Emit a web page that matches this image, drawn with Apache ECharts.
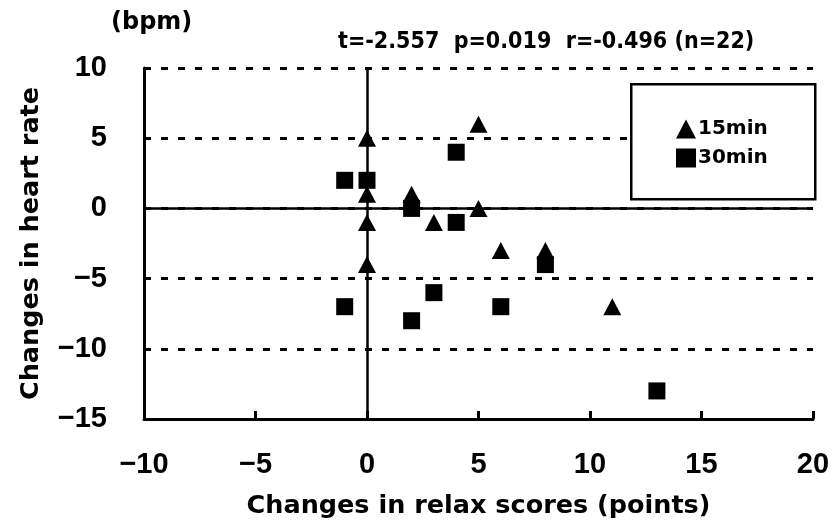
<!DOCTYPE html>
<html><head><meta charset="utf-8">
<script src="https://cdn.jsdelivr.net/npm/echarts@6/dist/echarts.min.js"></script>
<style>html,body{margin:0;padding:0;background:#fff}#c{width:833px;height:527px}</style>
</head><body><div id="c"></div>
<script>
// Data
const xTicks = [-10, -5, 0, 5, 10, 15, 20];
const yTicks = [-15, -10, -5, 0, 5, 10];
const min15X = [0, 0, 0, 0, 2, 3, 5, 5, 6, 8, 11];
const min15Y = [5, 1, -1, -4, 1, -1, 0, 6, -3, -3, -7];
const min30X = [-1, 0, 2, 4, 4, -1, 2, 3, 6, 8, 13];
const min30Y = [2, 2, 0, 4, -1, -7, -8, -6, -7, -4, -13];
const seriesNames = ['15min', '30min'];
const statText = 't=-2.557  p=0.019  r=-0.496 (n=22)';
const unitText = '(bpm)';
const xName = 'Changes in relax scores (points)';
const yName = 'Changes in heart rate';

const FONT = '"Liberation Sans", Arial, sans-serif';
const WIDE = '"DejaVu Sans", sans-serif';
const NARROW = '"Liberation Sans Narrow", "DejaVu Sans Condensed", "Liberation Sans", sans-serif';
const chart = echarts.init(document.getElementById('c'));
const zip = (xs, ys) => xs.map((x, i) => [x, ys[i]]);
const fmt = v => (v < 0 ? '\u2212' + Math.abs(v) : String(v));

chart.setOption({
  animation: false,
  backgroundColor: '#fff',
  grid: { left: 144, right: 20, top: 68, bottom: 108 },
  xAxis: {
    type: 'value', min: xTicks[0], max: xTicks[xTicks.length - 1], interval: 5,
    axisLine: { show: true, onZero: false, lineStyle: { color: '#000', width: 3 } },
    axisTick: { show: true, inside: true, length: 8, lineStyle: { color: '#000', width: 3 } },
    axisLabel: { color: '#000', fontFamily: FONT, fontWeight: 'bold', fontSize: 29, margin: 31, formatter: fmt },
    splitLine: { show: false },
    name: xName, nameLocation: 'middle', nameGap: 74,
    nameTextStyle: { color: '#000', fontFamily: WIDE, fontWeight: 'bold', fontSize: 25.5 }
  },
  yAxis: {
    type: 'value', min: yTicks[0], max: yTicks[yTicks.length - 1], interval: 5,
    axisLine: { show: true, onZero: false, lineStyle: { color: '#000', width: 3 } },
    axisTick: { show: true, inside: true, length: 6, lineStyle: { color: '#000', width: 3 } },
    axisLabel: { color: '#000', fontFamily: FONT, fontWeight: 'bold', fontSize: 29, margin: 37, formatter: fmt },
    splitLine: { show: true, lineStyle: { color: '#000', width: 3, type: [7, 10] } },
    name: yName, nameLocation: 'middle', nameGap: 100, nameRotate: 90,
    nameTextStyle: { color: '#000', fontFamily: WIDE, fontWeight: 'bold', fontSize: 25.5 }
  },
  legend: {
    show: true, orient: 'vertical', left: 676, top: 119, itemGap: 9, z: 30,
    itemWidth: 20, itemHeight: 19, padding: 0,
    textStyle: { color: '#000', fontFamily: WIDE, fontSize: 20, fontWeight: 'bold', padding: [0, 0, 0, -3] },
    data: [{ name: seriesNames[0], icon: 'triangle' }, { name: seriesNames[1], icon: 'rect' }]
  },
  graphic: [
    { type: 'rect', left: 630, top: 83, z: 20, shape: { width: 184, height: 115 },
      style: { fill: '#fff', stroke: '#000', lineWidth: 2.5 } },
    { type: 'text', left: 111, top: 11,
      style: { text: unitText, fill: '#000', font: 'bold 24px ' + WIDE } },
    { type: 'text', left: 338, top: 31,
      style: { text: statText, fill: '#000', font: 'bold 23px ' + NARROW } }
  ],
  series: [
    {
      name: seriesNames[0], type: 'scatter', symbol: 'triangle', symbolSize: [18, 17],
      itemStyle: { color: '#000', opacity: 1 }, data: zip(min15X, min15Y), z: 5,
      markLine: {
        silent: true, symbol: 'none', label: { show: false },
        lineStyle: { color: '#000', width: 2.5, type: 'solid', opacity: 1 },
        data: [{ xAxis: 0 }, { yAxis: 0 }]
      }
    },
    {
      name: seriesNames[1], type: 'scatter', symbol: 'rect', symbolSize: 17,
      itemStyle: { color: '#000', opacity: 1 }, data: zip(min30X, min30Y), z: 5
    }
  ]
});
</script></body></html>
